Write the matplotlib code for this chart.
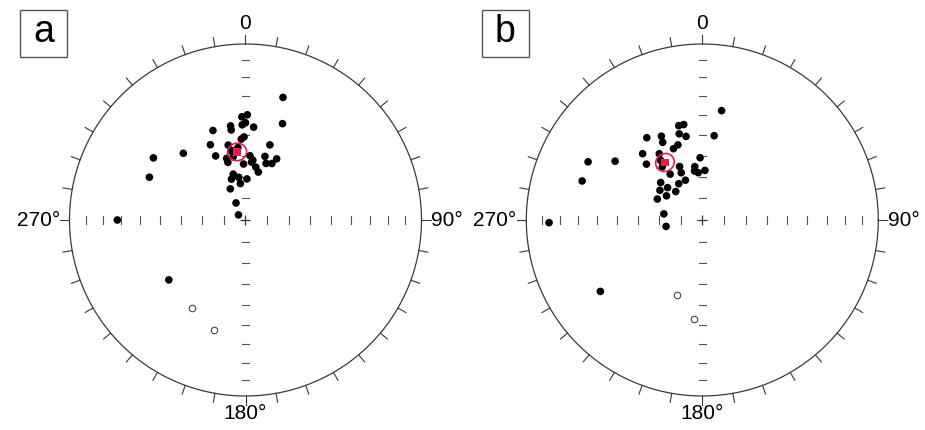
import numpy as np
import matplotlib
matplotlib.use("Agg")
import matplotlib.pyplot as plt
from matplotlib.patches import Rectangle

plt.rcParams["font.family"] = ["Liberation Sans", "DejaVu Sans"]

# --- Data: declination / inclination (negative inc = upper hemisphere) ---
dec_a = [17, 21, 358, 1, 0, 5, 358, 351, 351, 340, 359, 357, 335, 317, 304, 294,
         335, 347, 348, 343, 349, 343, 18, 4, 7, 11, 15, 6, 17, 20, 25, 27, 358,
         345, 341, 352, 2, 351, 334, 331, 306, 270, 232, 349, 354, 211, 196]
inc_a = [28, 41, 41, 40, 44, 46, 45, 45, 47, 45, 51, 52, 51, 47, 37, 40,
         57, 54, 57, 60, 60, 62, 53, 60, 62, 65, 67, 63, 59, 62, 61, 58, 64,
         68, 70, 73, 71, 70, 74, 81, 86, 28, 44, 57, 56, -41, -35]

dec_b = [10, 8, 346, 349, 345, 349, 334, 333, 326, 342, 338, 318, 315, 304, 297,
         288, 325, 323, 327, 358, 352, 355, 3, 351, 337, 336, 337, 327, 325, 312,
         313, 317, 305, 304, 295, 279, 260, 269, 235, 199, 185]
inc_b = [37, 50, 44, 44, 48, 50, 46, 49, 43, 53, 54, 48, 53, 40, 28,
         29, 56, 59, 53, 61, 65, 68, 67, 67, 63, 66, 70, 70, 64, 64,
         68, 72, 66, 70, 67, 72, 73, 14, 30, -53, -43]

mean_a = (353, 58)
mean_b = (327, 58)
a95 = 4.2

RED = "#e41e4c"
LINE = "#3a3a3a"


def project(dec, inc):
    d = np.radians(np.asarray(dec, float))
    i = np.radians(np.abs(np.asarray(inc, float)))
    r = np.sqrt(2) * np.sin((np.pi / 2 - i) / 2)
    return r * np.sin(d), r * np.cos(d)


def small_circle(dec, inc, radius):
    d, i, a = np.radians(dec), np.radians(inc), np.radians(radius)
    c = np.array([np.cos(i) * np.cos(d), np.cos(i) * np.sin(d), np.sin(i)])
    u = np.cross(c, [0, 0, 1.0])
    u /= np.linalg.norm(u)
    v = np.cross(c, u)
    t = np.linspace(0, 2 * np.pi, 200)
    p = (np.cos(a) * c[:, None] + np.sin(a) * (np.outer(u, np.cos(t)) + np.outer(v, np.sin(t))))
    decs = np.degrees(np.arctan2(p[1], p[0]))
    incs = np.degrees(np.arcsin(p[2]))
    return project(decs, incs)


def stereonet(ax, cx, x0, x1, decs, incs, mean, label, lab_x):
    R = 176.0
    ax.set_xlim((x0 - cx) / R, (x1 - cx) / R)
    ax.set_ylim(-210 / R, 220 / R)
    ax.axis("off")
    ax.patch.set_visible(False)

    t = np.linspace(0, 2 * np.pi, 400)
    ax.plot(np.cos(t), np.sin(t), color=LINE, lw=0.9)
    for az in range(0, 360, 10):
        s, c = np.sin(np.radians(az)), np.cos(np.radians(az))
        ax.plot([s, 1.052 * s], [c, 1.052 * c], color=LINE, lw=0.8)

    # inner scale every 10 deg of inclination
    rk = np.sqrt(2) * np.sin(np.radians(np.arange(10, 90, 10)) / 2)
    h = 0.02
    for r in rk:
        for sgn in (-1, 1):
            ax.plot([sgn * r, sgn * r], [-h, h], color="#555555", lw=0.8)
            ax.plot([-h, h], [sgn * r, sgn * r], color="#555555", lw=0.8)
    ax.plot(0, 0, marker="+", color="#333333", ms=7, mew=0.9)

    decs, incs = np.asarray(decs), np.asarray(incs)
    x, y = project(decs, incs)
    down = incs >= 0
    ax.scatter(x[down], y[down], s=30, color="black", edgecolors="none", zorder=3)
    ax.scatter(x[~down], y[~down], s=22, facecolors="white", edgecolors="#444444",
               linewidths=0.8, zorder=3)

    mx, my = project(mean[0], mean[1])
    ax.scatter([mx], [my], s=30, color=RED, marker="s", edgecolors="none", zorder=4)
    ex, ey = small_circle(mean[0], mean[1], a95)
    ax.plot(ex, ey, color=RED, lw=1.2, zorder=4)

    fs = 15
    ax.text(0, 1.115, "0", ha="center", va="center", fontsize=fs)
    ax.text(0, -1.10, "180°", ha="center", va="center", fontsize=fs)
    ax.text(-1.055, 0, "270°", ha="right", va="center", fontsize=fs)
    ax.text(1.055, 0, "90°", ha="left", va="center", fontsize=fs)

    bx0, bx1 = (lab_x - cx) / R, (lab_x + 47 - cx) / R
    by0, by1 = (220 - 57) / R, (220 - 10) / R
    ax.add_patch(Rectangle((bx0, by0), bx1 - bx0, by1 - by0, fill=False,
                           edgecolor="#555555", lw=1.0, clip_on=False))
    ax.text((bx0 + bx1) / 2, (by0 + by1) / 2 + 0.01, label, ha="center",
            va="center", fontsize=27)


fig = plt.figure(figsize=(9.25, 4.3), dpi=100)
ax_a = fig.add_axes([0, 0, 462 / 925, 1])
ax_b = fig.add_axes([462 / 925, 0, 463 / 925, 1])

stereonet(ax_a, 245.5, 0, 462, dec_a, inc_a, mean_a, "a", 20)
stereonet(ax_b, 702.3, 462, 925, dec_b, inc_b, mean_b, "b", 482)

fig.savefig("out.png", dpi=100, facecolor="white")
